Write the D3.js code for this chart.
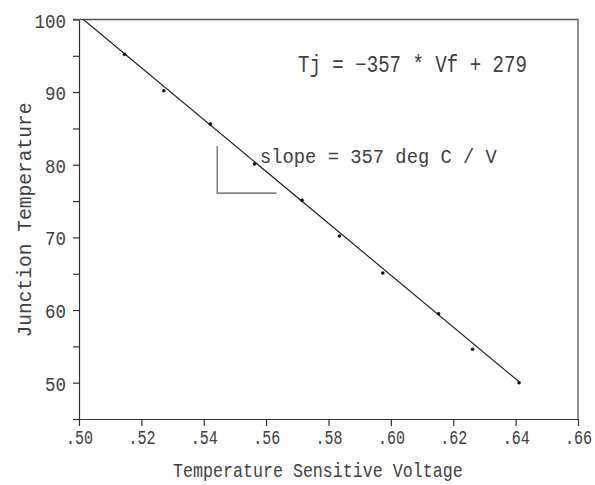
<!DOCTYPE html>
<html>
<head>
<style type="text/css">
body { margin: 0; background: #fff; }
text { font-family: "Liberation Mono", "DejaVu Sans Mono", monospace; fill: #404040; }
</style>
<script src="https://d3js.org/d3.v7.min.js"></script>
</head>
<body>
<script type="text/javascript">
var width  = 595;
var height = 485;

// measured points
var voltage = [0.5146, 0.5272, 0.5421, 0.5563, 0.5715, 0.5835, 0.5974, 0.6153, 0.6262, 0.6411];
var temp    = [95.2, 90.2, 85.6, 80.1, 75.1, 70.2, 65.1, 59.5, 54.6, 50.0];

// axis ticks
var xTicks = [0.50, 0.52, 0.54, 0.56, 0.58, 0.60, 0.62, 0.64, 0.66];
var yTicks = [45, 50, 55, 60, 65, 70, 75, 80, 85, 90, 95, 100];
var yLabels = [50, 60, 70, 80, 90, 100];

// fitted line Tj = -357 * Vf + 279
var fitSlope = -357;
var fitIntercept = 279;
var fitEnd = 0.641;

var x = d3.scaleLinear().domain([0.50, 0.66]).range([79, 578]);
var y = d3.scaleLinear().domain([45, 100]).range([419, 19.5]);

var svg = d3.select("body").append("svg").attr("width", width).attr("height", height);

// squeeze a text horizontally to a given width, anchored at (px,py)
function squeeze(t, px, py, len, anchor) {
	t.attr("x", 0).attr("y", 0).attr("dy", null).attr("text-anchor", anchor || "start");
	var w = t.node().getComputedTextLength();
	t.attr("transform", "translate(" + px + "," + py + ") scale(" + (len / w) + ",1)");
}

// axes
var fmtX = function(d) { return d3.format(".2f")(d).replace(/^0/, ""); };
var xAxis = svg.append("g").attr("transform", "translate(0,419)")
	.call(d3.axisBottom(x).tickValues(xTicks).tickSize(7).tickSizeOuter(0).tickPadding(3).tickFormat(fmtX));
var yAxis = svg.append("g").attr("transform", "translate(79,0)")
	.call(d3.axisLeft(y).tickValues(yTicks).tickSize(6).tickSizeOuter(0).tickPadding(8)
		.tickFormat(function(d) { return yLabels.indexOf(d) >= 0 ? d : ""; }));
svg.selectAll(".domain, .tick line").attr("stroke", "#333").attr("stroke-width", 1.2);
xAxis.attr("font-size", 21);
yAxis.attr("font-size", 21);
svg.selectAll(".tick text").style("font-size", "21px").attr("fill", "#404040")
	.style("font-family", "\"Liberation Mono\", \"DejaVu Sans Mono\", monospace");
xAxis.selectAll(".tick text").each(function() {
	squeeze(d3.select(this), 0, 25, 27, "middle");
});
yAxis.selectAll(".tick text").each(function() {
	var t = d3.select(this);
	if (t.text() !== "") squeeze(t, -13, 7.5, t.text().length * 10.5, "end");
});

// frame top and right
svg.append("path").attr("fill", "none").attr("stroke", "#555").attr("stroke-width", 1.3)
	.attr("d", "M" + 73 + "," + y(100) + "H" + x(0.66) + "V" + y(45));

// fit line, starting where it crosses 100
var fitStart = (100 - fitIntercept) / fitSlope;
var fitData = [fitStart, fitEnd].map(function(v) { return [v, fitSlope * v + fitIntercept]; });
svg.append("path").attr("fill", "none").attr("stroke", "#222").attr("stroke-width", 1.2)
	.attr("d", d3.line().x(function(d) { return x(d[0]); }).y(function(d) { return y(d[1]); })(fitData));

// points
svg.selectAll("circle.pt").data(voltage).enter().append("circle")
	.attr("class", "pt")
	.attr("cx", function(d) { return x(d); })
	.attr("cy", function(d, i) { return y(temp[i]); })
	.attr("r", 1.8)
	.attr("fill", "#111");

// slope triangle
var tri = [[0.5443, 82.6], [0.5443, 76.1], [0.5633, 76.1]];
svg.append("path").attr("fill", "none").attr("stroke", "#555").attr("stroke-width", 1.1)
	.attr("d", d3.line().x(function(d) { return x(d[0]); }).y(function(d) { return y(d[1]); })(tri));

function label(txt, px, py, len, size) {
	var t = svg.append("text").style("font-size", size + "px").text(txt);
	squeeze(t, px, py, len);
	return t;
}

label("Tj = \u2212357 * Vf + 279", 298, 72, 229, 23);
label("slope = 357 deg C / V", 260, 163, 237, 21);
label("Temperature Sensitive Voltage", 173, 477, 290, 20);
var yt = svg.append("text").style("font-size", "21px").text("Junction Temperature");
squeeze(yt, 0, 0, 235, "middle");
yt.attr("transform", "translate(31,220) rotate(-90) " + yt.attr("transform").replace("translate(0,0) ", ""));
</script>
</body>
</html>
